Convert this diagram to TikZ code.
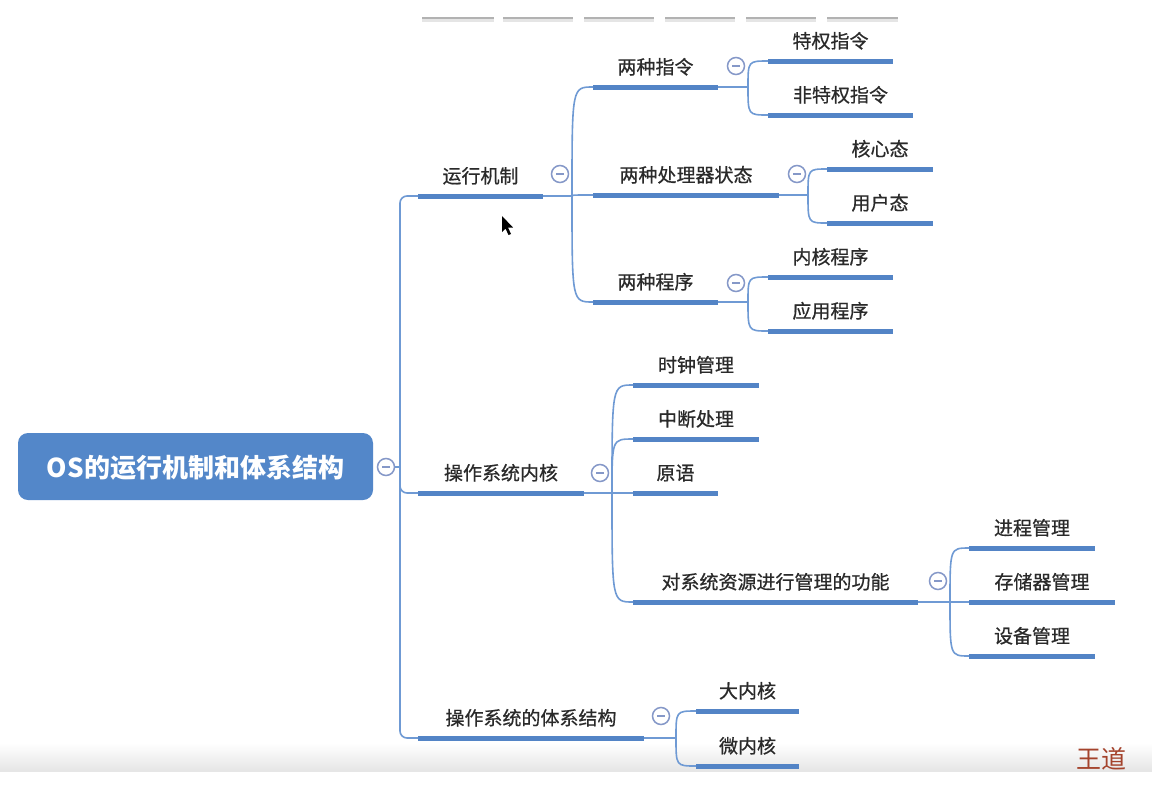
\documentclass[tikz,border=0pt]{standalone}
\usepackage{fontspec}
\setmainfont{Noto Sans CJK SC}
\newfontfamily\lblfont{Noto Sans CJK SC}[FakeBold=0.7]
\definecolor{ulc}{HTML}{5384C6}
\definecolor{lnc}{HTML}{6F9AD4}
\definecolor{tgc}{HTML}{8598C8}
\definecolor{txc}{HTML}{2A2A2A}
\definecolor{rootc}{HTML}{5387C9}
\definecolor{wdc}{HTML}{A4432C}
\tikzset{
  ul/.style={line width=5pt, ulc},
  conn/.style={line width=1.6pt, lnc},
  lbl/.style={text=txc, font=\lblfont\fontsize{19}{19}\selectfont, inner sep=0pt, anchor=base},
  tog/.style={circle, draw=tgc, line width=1.5pt, fill=white, minimum size=17pt, inner sep=0pt,
    path picture={\draw[tgc, line width=1.3pt] ([xshift=-4pt]path picture bounding box.center) -- ([xshift=4pt]path picture bounding box.center);}},
  rootbox/.style={fill=rootc, rounded corners=10pt, minimum width=355pt, minimum height=67pt, inner sep=0pt},
  roottext/.style={text=white, font=\bfseries\fontsize{26}{26}\selectfont, inner sep=0pt, anchor=base},
}
% \topic{name}{x1}{x2}{y}{text}
\newcommand{\topic}[5]{%
  \coordinate (#1-l) at (#2,#4);
  \coordinate (#1-r) at (#3,#4);
  \draw[ul] (#1-l) -- (#1-r);
  \node[lbl] (#1) at ({(#2+#3)/2},{#4-13}) {#5};
}
% \fork{parent}{bx}{toggle x}{toggle y}
\newcommand{\fork}[4]{%
  \coordinate (#1-b) at (#2,0 |- #1-r);
  \draw[conn] (#1-r) -- (#1-b);
  \node[tog] (#1-t) at (#3,#4) {};
}
% \kid{parent}{child}
\newcommand{\kid}[2]{%
  \draw[conn] (#1-b) .. controls (#1-b |- #2-l) and (#1-b |- #2-l) .. (#2-l);
}
\begin{document}
\begin{tikzpicture}[x=1pt,y=-1pt]
\useasboundingbox (0,0) rectangle (1152,796);
\fill[white] (0,0) rectangle (1152,796);
% bottom band
\shade[top color=white, bottom color=black!10] (0,743) rectangle (1152,771);
% top toolbar strip
\foreach \a/\b in {422/494,503/573,584/654,665/735,746/816,827/898}{
  \draw[line width=4pt, black!10] (\a,19.5) -- (\b,19.5);
  \draw[line width=2.5pt, black!30] (\a,18) -- (\b,18);}

% root
\node[rootbox] (root) at (195.5,466.5) {};
\node[roottext] (root-text) at (195.5,477) {OS的运行机制和体系结构};
\coordinate (spine) at (400,467);
\node[tog] (root-t) at (386,467) {};
\draw[conn] (root-t.east) -- (spine);

% level 1
\topic{A}{418}{543}{196}{运行机制}
\topic{B}{418}{584}{493}{操作系统内核}
\topic{C}{418}{644}{738}{操作系统的体系结构}
\draw[conn, rounded corners=7pt] (spine) |- (A-l);
\draw[conn, rounded corners=7pt] (spine) |- (B-l);
\draw[conn, rounded corners=7pt] (spine) |- (C-l);

% level 2 under A
\topic{A1}{593}{718}{87}{两种指令}
\topic{A2}{593}{779}{195}{两种处理器状态}
\topic{A3}{593}{718}{302}{两种程序}
\fork{A}{572}{560}{174}
\kid{A}{A1}\kid{A}{A2}\kid{A}{A3}

% level 3 under A1..A3
\topic{A1a}{768}{893}{61}{特权指令}
\topic{A1b}{768}{913}{115}{非特权指令}
\fork{A1}{748}{736}{66}
\kid{A1}{A1a}\kid{A1}{A1b}

\topic{A2a}{827}{933}{169}{核心态}
\topic{A2b}{827}{933}{223}{用户态}
\fork{A2}{808}{797}{174}
\kid{A2}{A2a}\kid{A2}{A2b}

\topic{A3a}{768}{893}{277}{内核程序}
\topic{A3b}{768}{893}{331}{应用程序}
\fork{A3}{748}{736}{283}
\kid{A3}{A3a}\kid{A3}{A3b}

% level 2 under B
\topic{B1}{633}{759}{385}{时钟管理}
\topic{B2}{633}{759}{439}{中断处理}
\topic{B3}{633}{718}{493}{原语}
\topic{B4}{633}{918}{602}{对系统资源进行管理的功能}
\fork{B}{612}{600}{473}
\kid{B}{B1}\kid{B}{B2}\kid{B}{B3}\kid{B}{B4}

\topic{B4a}{969}{1095}{548}{进程管理}
\topic{B4b}{969}{1115}{602}{存储器管理}
\topic{B4c}{969}{1095}{656}{设备管理}
\fork{B4}{950}{938}{581}
\kid{B4}{B4a}\kid{B4}{B4b}\kid{B4}{B4c}

% level 2 under C
\topic{C1}{696}{799}{711}{大内核}
\topic{C2}{696}{799}{766}{微内核}
\fork{C}{676}{661}{716}
\kid{C}{C1}\kid{C}{C2}

% watermark
\node[text=wdc, font=\fontsize{25}{25}\selectfont, inner sep=0pt, anchor=base] (wd) at (1101,768) {王道};

% mouse cursor
\fill[black] (502,216) -- (502,232) -- (505.5,228.5) -- (508.5,235) -- (511,234) -- (508,227.5) -- (513,227.5) -- cycle;
\end{tikzpicture}
\end{document}
